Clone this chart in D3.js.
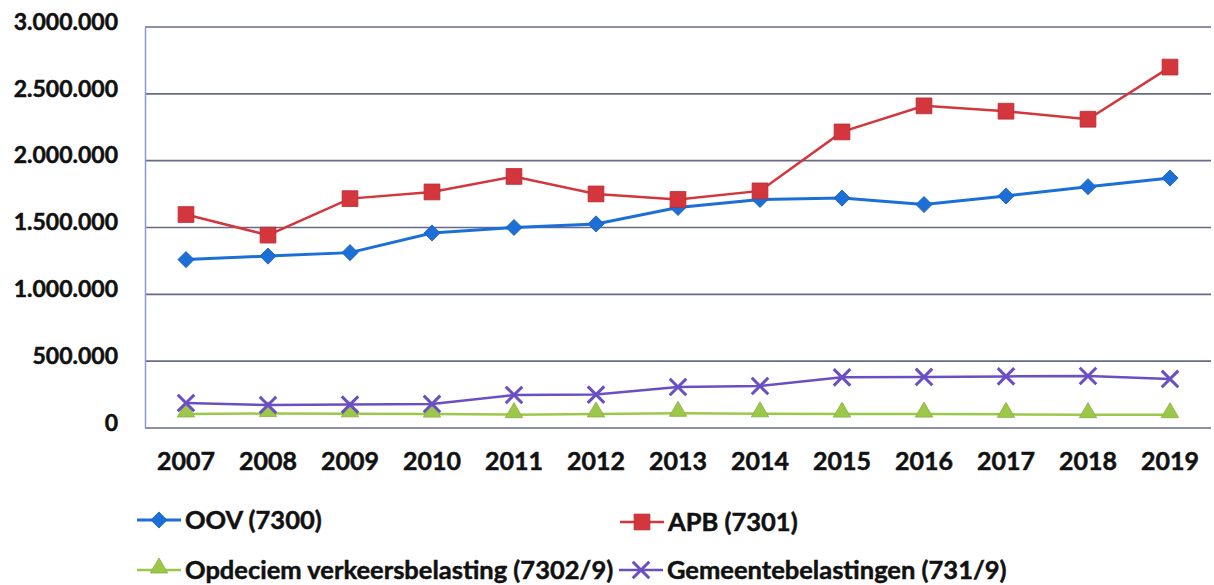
<!DOCTYPE html>
<html>
<head>
<meta charset="utf-8">
<script src="https://cdn.jsdelivr.net/npm/d3@7"></script>
<style>
  body { margin: 0; background: #fff; }
  text { font-family: Lato, "Open Sans", sans-serif; font-weight: bold; fill: #111; stroke: #111; stroke-width: 0.5px; }
</style>
</head>
<body>
<script>
// jaren en reeksen
const jaren = ["2007","2008","2009","2010","2011","2012","2013","2014","2015","2016","2017","2018","2019"];
const oov = [1260000,1286000,1312000,1459000,1500000,1527000,1650000,1710000,1720000,1672000,1736000,1805000,1870000];
const apb = [1597000,1443000,1716000,1766000,1882000,1751000,1710000,1774000,2215000,2410000,2370000,2310000,2700000];
const opdeciem = [105000,108000,106000,104000,100000,105000,110000,106000,104000,104000,102000,100000,100000];
const gemeente = [187000,172000,175000,180000,247000,250000,307000,314000,379000,382000,386000,389000,367000];
const yTicks = [0,500000,1000000,1500000,2000000,2500000,3000000];

const reeksen = [
  { naam: "OOV (7300)", waarden: oov, kleur: "#1b6fd6", vorm: "diamant", dikte: 3 },
  { naam: "APB (7301)", waarden: apb, kleur: "#d3363c", vorm: "vierkant", dikte: 2.5 },
  { naam: "Opdeciem verkeersbelasting (7302/9)", waarden: opdeciem, kleur: "#9cc84a", vorm: "driehoek", dikte: 2.5 },
  { naam: "Gemeentebelastingen (731/9)", waarden: gemeente, kleur: "#6a4fc4", vorm: "kruis", dikte: 2.5 }
];

const W = 1214, H = 585;
const svg = d3.select("body").append("svg").attr("width", W).attr("height", H);

const x = d3.scaleBand().domain(jaren).range([145, 1211]);
const y = d3.scaleLinear().domain([0, 3000000]).range([428, 27]);

const fmt = v => d3.format(",")(v).replace(/,/g, ".");

// rasterlijnen
svg.append("g").selectAll("line").data(yTicks).enter().append("line")
  .attr("x1", 145).attr("x2", 1211)
  .attr("y1", d => y(d)).attr("y2", d => y(d))
  .attr("stroke", "#676a86").attr("stroke-width", 1.6);

// y-as
const yAs = svg.append("g").attr("transform", "translate(145,0)")
  .call(d3.axisLeft(y).tickValues(yTicks).tickFormat(fmt).tickSize(0).tickPadding(27));
yAs.select(".domain").attr("stroke", "#8a9ad0").attr("stroke-width", 1.5);
yAs.selectAll("text").style("font-size", "23px").attr("dy", "0.1em");

// x-as
const xAs = svg.append("g").attr("transform", "translate(0,428)")
  .call(d3.axisBottom(x).tickSize(0).tickPadding(24));
xAs.select(".domain").remove();
xAs.selectAll("text").style("font-size", "25px");

const symbolen = {
  diamant: d3.symbol().type(d3.symbolSquare).size(130),
  vierkant: d3.symbol().type(d3.symbolSquare).size(250),
  driehoek: d3.symbol().type(d3.symbolTriangle).size(130),
  kruis: d3.symbol().type(d3.symbolTimes).size(180)
};

function tekenMarker(g, r, cx, cy) {
  const p = g.append("path")
    .attr("d", symbolen[r.vorm]())
    .attr("transform", `translate(${cx},${cy})` + (r.vorm === "diamant" ? " rotate(45)" : "") + (r.vorm === "driehoek" ? " translate(0,-2)" : ""));
  if (r.vorm === "kruis") {
    p.attr("fill", "none").attr("stroke", r.kleur).attr("stroke-width", 3);
  } else {
    p.attr("fill", r.kleur).attr("stroke", d3.color(r.kleur).darker(0.4)).attr("stroke-width", 0.8);
  }
}

const lijn = d3.line()
  .x((d, i) => x(jaren[i]) + x.bandwidth() / 2)
  .y(d => y(d));

// onderste reeksen eerst tekenen
[2, 3, 0, 1].forEach(k => {
  const r = reeksen[k];
  const g = svg.append("g");
  g.append("path").datum(r.waarden)
    .attr("d", lijn).attr("fill", "none")
    .attr("stroke", r.kleur).attr("stroke-width", r.dikte);
  r.waarden.forEach((v, i) => tekenMarker(g, r, x(jaren[i]) + x.bandwidth() / 2, y(v)));
});

// legenda
const legPos = [
  { lx: 137, ly: 520 },
  { lx: 620, ly: 522 },
  { lx: 137, ly: 570 },
  { lx: 619, ly: 570 }
];
reeksen.forEach((r, k) => {
  const p = legPos[k];
  const g = svg.append("g");
  g.append("line").attr("x1", p.lx).attr("x2", p.lx + 44)
    .attr("y1", p.ly).attr("y2", p.ly)
    .attr("stroke", r.kleur).attr("stroke-width", r.dikte);
  tekenMarker(g, r, p.lx + 22, p.ly);
  g.append("text").attr("x", p.lx + 48).attr("y", p.ly + 9)
    .style("font-size", "25.5px").text(r.naam);
});
</script>
</body>
</html>
